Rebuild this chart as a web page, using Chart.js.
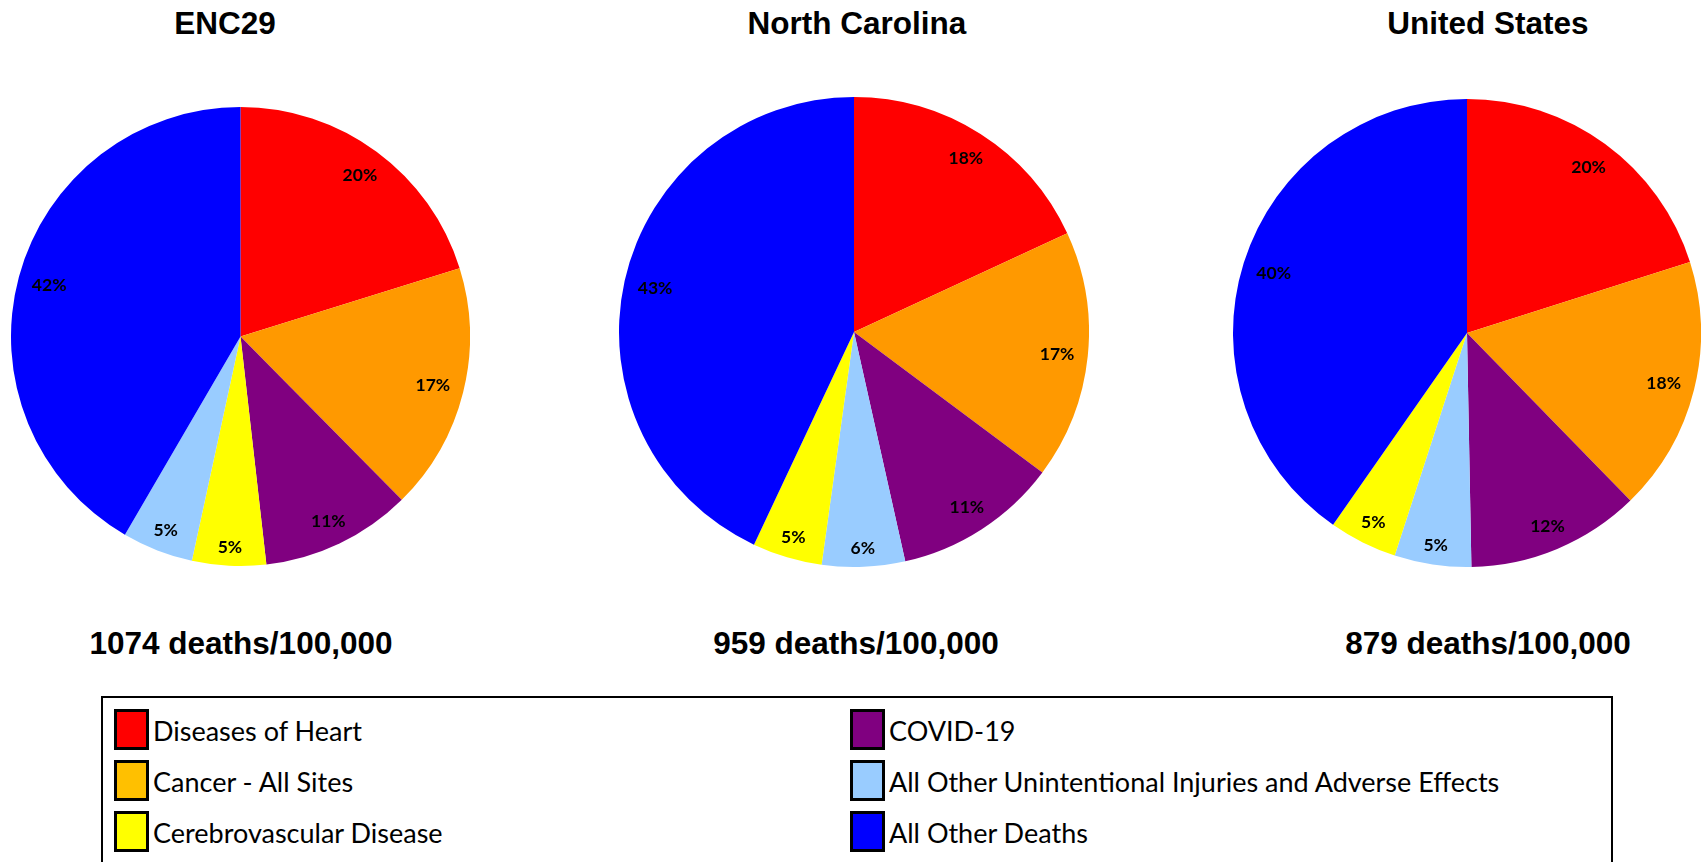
<!DOCTYPE html>
<html>
<head>
<meta charset="utf-8">
<script src="https://cdn.jsdelivr.net/npm/chart.js@4.4.1/dist/chart.umd.min.js"></script>
<style>
  body { margin: 0; width: 1701px; height: 862px; overflow: hidden; background: #fff; position: relative; }
  canvas { position: absolute; }
  .big { position: absolute; transform: translate(-50%, -50%); font: bold 31.5px "Liberation Sans", Arial, sans-serif; line-height: 1; white-space: nowrap; color: #000; }
  #legendBox { position: absolute; left: 101px; top: 696px; width: 1508px; height: 220px; border: 2px solid #000; }
  .swatch { position: absolute; width: 29px; height: 35px; border: 3px solid #000; }
  .ltext { position: absolute; transform: translateY(-50%); font: 27px Lato, sans-serif; line-height: 1; white-space: nowrap; color: #000; }
</style>
</head>
<body>
<canvas id="pie0" width="459" height="459" style="left:11px; top:107px;"></canvas>
<canvas id="pie1" width="470" height="470" style="left:619px; top:97px;"></canvas>
<canvas id="pie2" width="468" height="468" style="left:1233px; top:99px;"></canvas>
<div id="legendBox"></div>
<script>
// categories in legend order (left column, then right column)
const categories = [
  "Diseases of Heart",
  "Cancer - All Sites",
  "Cerebrovascular Disease",
  "COVID-19",
  "All Other Unintentional Injuries and Adverse Effects",
  "All Other Deaths"
];
const regions = ["ENC29", "North Carolina", "United States"];
const totalRates = [1074, 959, 879]; // deaths per 100,000

// share of deaths (%), same order as categories
const enc29Values = [20.2, 17.4, 5.2, 10.6, 5.0, 41.6];
const ncValues = [18.1, 17.1, 4.8, 11.3, 5.7, 43.0];
const usValues = [20.1, 17.6, 4.7, 12.0, 5.3, 40.3];

const sliceColors = ["#FF0000", "#FF9900", "#FFFF00", "#800080", "#99CCFF", "#0000FF"];
const legendColors = ["#FF0000", "#FFC000", "#FFFF00", "#800080", "#99CCFF", "#0000FF"];

const titleX = [225, 857, 1488];
const pieValues = [enc29Values, ncValues, usValues];

/* percent labels placed just inside the rim */
const insideEndLabels = {
  id: "insideEndLabels",
  afterDatasetsDraw(chart) {
    const ctx = chart.ctx;
    const data = chart.data.datasets[0].data;
    const total = data.reduce((a, b) => a + b, 0);
    ctx.save();
    ctx.font = "bold 17.5px Lato, sans-serif";
    ctx.fillStyle = "#000";
    ctx.textAlign = "center";
    ctx.textBaseline = "middle";
    chart.getDatasetMeta(0).data.forEach((arc, i) => {
      const p = arc.getProps(["x", "y", "startAngle", "endAngle", "outerRadius"], true);
      const mid = (p.startAngle + p.endAngle) / 2;
      const txt = Math.round(data[i] / total * 100) + "%";
      const w = ctx.measureText(txt).width;
      const ext = Math.abs(Math.cos(mid)) * w / 2 + Math.abs(Math.sin(mid)) * 6;
      const d = p.outerRadius - 13 - ext;
      ctx.fillText(txt, p.x + Math.cos(mid) * d, p.y + Math.sin(mid) * d + 1);
    });
    ctx.restore();
  }
};

function sliceOrder(values) {
  // largest first, "All Other Deaths" always last
  const last = categories.length - 1;
  const idx = categories.map((c, i) => i).filter(i => i !== last);
  idx.sort((a, b) => values[b] - values[a]);
  idx.push(last);
  return idx;
}

pieValues.forEach((values, k) => {
  const order = sliceOrder(values);
  new Chart(document.getElementById("pie" + k), {
    type: "pie",
    data: {
      labels: order.map(i => categories[i]),
      datasets: [{
        data: order.map(i => values[i]),
        backgroundColor: order.map(i => sliceColors[i]),
        borderWidth: 0
      }]
    },
    options: {
      responsive: false,
      animation: false,
      layout: { padding: 0 },
      plugins: { legend: { display: false }, tooltip: { enabled: false } }
    },
    plugins: [insideEndLabels]
  });

  const t = document.createElement("div");
  t.className = "big";
  t.style.left = titleX[k] + "px";
  t.style.top = "24px";
  t.innerText = regions[k];
  document.body.appendChild(t);

  const s = document.createElement("div");
  s.className = "big";
  s.style.left = [241, 856, 1488][k] + "px";
  s.style.top = "644px";
  s.innerText = totalRates[k] + " deaths/100,000";
  document.body.appendChild(s);
});

/* legend, two columns of three */
categories.forEach((c, i) => {
  const col = Math.floor(i / 3), row = i % 3;
  const top = 709 + row * 51;
  const left = col === 0 ? 114 : 850;
  const sw = document.createElement("div");
  sw.className = "swatch";
  sw.style.left = left + "px";
  sw.style.top = top + "px";
  sw.style.background = legendColors[i];
  document.body.appendChild(sw);

  const lt = document.createElement("div");
  lt.className = "ltext";
  lt.style.left = (left + 39) + "px";
  lt.style.top = (top + 21) + "px";
  lt.innerText = c;
  document.body.appendChild(lt);
});
</script>
</body>
</html>
